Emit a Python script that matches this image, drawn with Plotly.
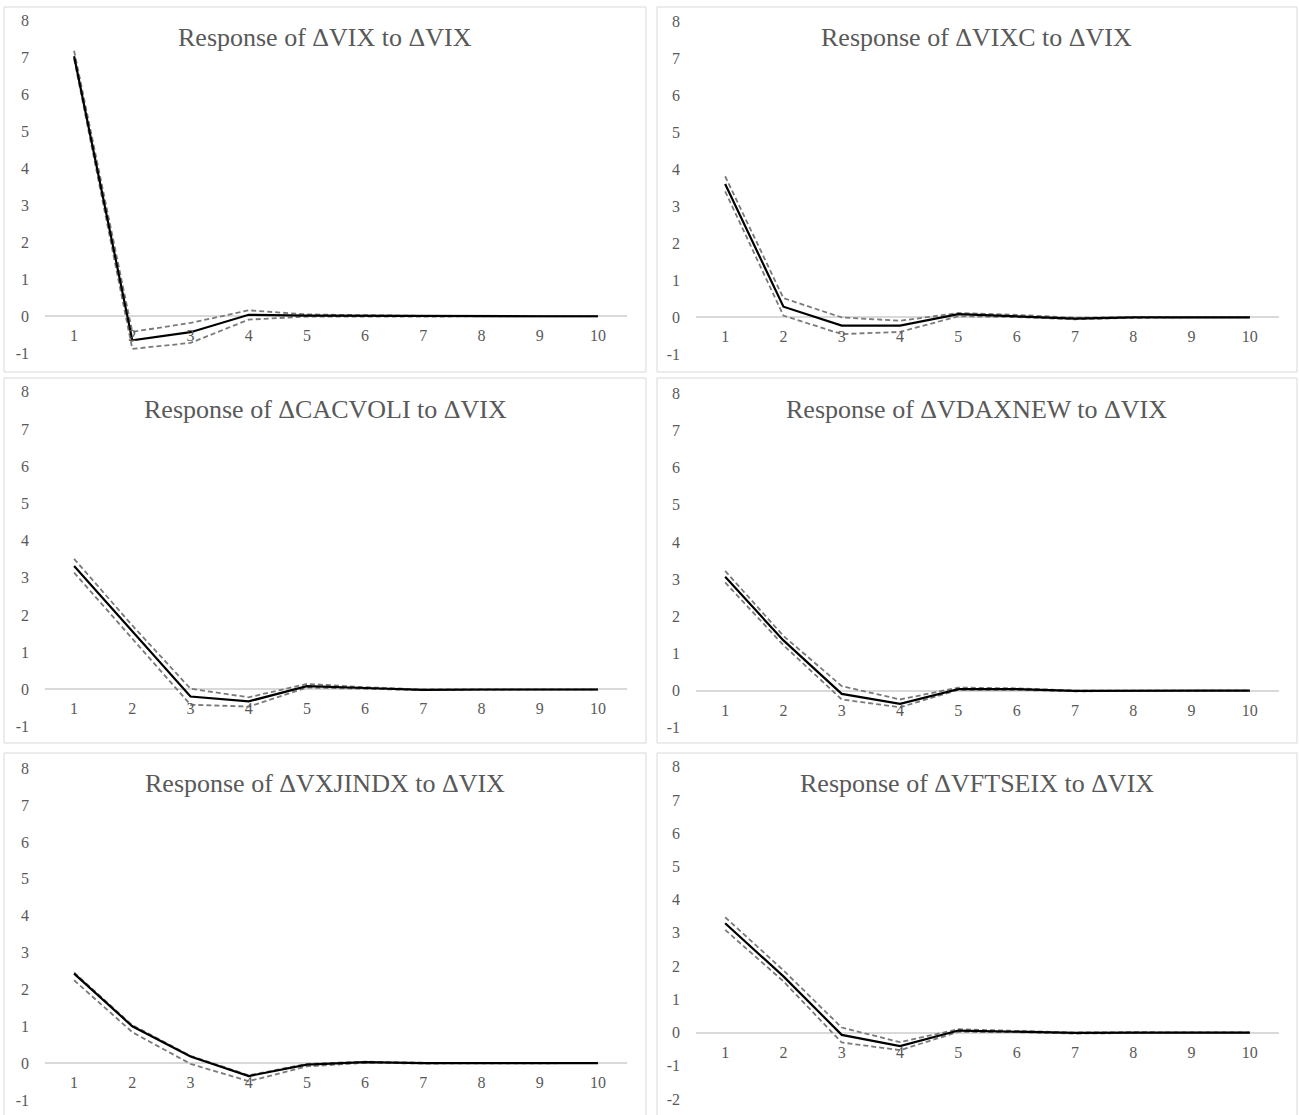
import plotly.graph_objects as go

W, H = 1300, 1115

periods = ["1", "2", "3", "4", "5", "6", "7", "8", "9", "10"]

titles = [
    "Response of ΔVIX to ΔVIX",
    "Response of ΔVIXC to ΔVIX",
    "Response of ΔCACVOLI to ΔVIX",
    "Response of ΔVDAXNEW to ΔVIX",
    "Response of ΔVXJINDX to ΔVIX",
    "Response of ΔVFTSEIX to ΔVIX",
]

vix_est = [7.02, -0.65, -0.43, 0.04, 0.02, 0.01, 0.0, 0.0, 0.0, 0.0]
vix_up = [7.17, -0.42, -0.18, 0.16, 0.05, 0.02, 0.01, 0.0, 0.0, 0.0]
vix_lo = [6.95, -0.88, -0.72, -0.09, -0.01, -0.02, -0.01, 0.0, 0.0, 0.0]

vixc_est = [3.60, 0.29, -0.22, -0.22, 0.09, 0.04, -0.03, 0.0, 0.0, 0.0]
vixc_up = [3.81, 0.52, 0.00, -0.09, 0.12, 0.07, -0.01, 0.01, 0.0, 0.0]
vixc_lo = [3.40, 0.05, -0.45, -0.39, 0.03, 0.01, -0.05, -0.01, 0.0, 0.0]

cac_est = [3.32, 1.55, -0.19, -0.32, 0.09, 0.04, -0.01, 0.0, 0.0, 0.0]
cac_up = [3.51, 1.72, 0.02, -0.21, 0.15, 0.06, 0.0, 0.01, 0.0, 0.0]
cac_lo = [3.14, 1.38, -0.41, -0.46, 0.05, 0.02, -0.02, -0.01, 0.0, 0.0]

vdax_est = [3.06, 1.35, -0.09, -0.36, 0.04, 0.04, -0.01, 0.0, 0.0, 0.0]
vdax_up = [3.22, 1.47, 0.12, -0.24, 0.08, 0.06, 0.0, 0.01, 0.0, 0.0]
vdax_lo = [2.91, 1.22, -0.24, -0.45, 0.02, 0.02, -0.02, -0.01, 0.0, 0.0]

vxj_est = [2.43, 1.00, 0.18, -0.35, -0.04, 0.03, 0.0, 0.0, 0.0, 0.0]
vxj_up = [2.46, 1.03, 0.20, -0.33, -0.02, 0.04, 0.01, 0.0, 0.0, 0.0]
vxj_lo = [2.25, 0.84, -0.02, -0.49, -0.09, 0.01, -0.01, 0.0, 0.0, 0.0]

vftse_est = [3.29, 1.69, -0.07, -0.41, 0.06, 0.03, -0.01, 0.0, 0.0, 0.0]
vftse_up = [3.47, 1.87, 0.15, -0.29, 0.10, 0.06, 0.0, 0.01, 0.0, 0.0]
vftse_lo = [3.09, 1.54, -0.30, -0.53, 0.02, 0.01, -0.03, -0.01, 0.0, 0.0]

y_tick_vals = [-2, -1, 0, 1, 2, 3, 4, 5, 6, 7, 8]
y_tick_text = ["-2", "-1", "0", "1", "2", "3", "4", "5", "6", "7", "8"]

y_ranges = [(-1, 8), (-1, 8), (-1, 8), (-1, 8), (-1, 8), (-2, 8)]

series = [
    (vix_est, vix_up, vix_lo),
    (vixc_est, vixc_up, vixc_lo),
    (cac_est, cac_up, cac_lo),
    (vdax_est, vdax_up, vdax_lo),
    (vxj_est, vxj_up, vxj_lo),
    (vftse_est, vftse_up, vftse_lo),
]

# layout geometry (pixels)
x_plot = [(45, 627), (696, 1279)]
y_plot = [(20, 353.3), (21, 354.5), (391.7, 726.7), (393.3, 727.7), (768.3, 1100), (766.7, 1099)]
panel_x = [(4, 646), (657, 1297)]
panel_y = [(7, 372), (378, 743), (753, 1119)]
title_y = [37, 409, 783]

FONT = "Liberation Serif"
TXT = "#595959"

fig = go.Figure()
layout = {}
shapes = []
annotations = []

for i in range(6):
    col = i % 2
    row = i // 2
    n = "" if i == 0 else str(i + 1)
    xa, ya = "x" + n, "y" + n
    est, up, lo = series[i]
    for vals, color, width, dash in [
        (up, "#7a7a7a", 1.8, "5px,3px"),
        (lo, "#7a7a7a", 1.8, "5px,3px"),
        (est, "#000000", 2.2, "solid"),
    ]:
        fig.add_trace(go.Scatter(
            x=periods, y=vals, mode="lines", xaxis=xa, yaxis=ya,
            line=dict(color=color, width=width, dash=dash),
            showlegend=False, hoverinfo="skip",
        ))
    x0, x1 = x_plot[col]
    yt, yb = y_plot[i]
    ydom = [1 - yb / H, 1 - yt / H]
    rmin, rmax = y_ranges[i]
    zero_pos = ydom[0] + (0 - rmin) / (rmax - rmin) * (ydom[1] - ydom[0])
    tv = [v for v in y_tick_vals if rmin <= v <= rmax]
    tt = [t for v, t in zip(y_tick_vals, y_tick_text) if rmin <= v <= rmax]
    layout["xaxis" + n] = dict(
        domain=[x0 / W, x1 / W], type="category", anchor="free", position=zero_pos,
        showgrid=False, zeroline=False, showline=False, automargin=False,
        tickfont=dict(family=FONT, size=16, color=TXT), ticklabelstandoff=8,
        range=[-0.5, 9.5], fixedrange=True,
    )
    layout["yaxis" + n] = dict(
        domain=ydom, range=[rmin, rmax], tickmode="array", tickvals=tv, ticktext=tt,
        showgrid=False, zeroline=True, zerolinecolor="#d9d9d9", zerolinewidth=1.5,
        anchor=xa, showline=False, automargin=False, fixedrange=True,
        tickfont=dict(family=FONT, size=16, color=TXT), ticklabelstandoff=15,
    )
    px0, px1 = panel_x[col]
    py0, py1 = panel_y[row]
    shapes.append(dict(
        type="rect", xref="paper", yref="paper",
        x0=px0 / W, x1=px1 / W, y0=1 - py1 / H, y1=1 - py0 / H,
        line=dict(color="#d9d9d9", width=1), layer="below",
    ))
    annotations.append(dict(
        text=titles[i], xref="paper", yref="paper",
        x=(px0 + px1) / 2 / W, y=1 - title_y[row] / H,
        xanchor="center", yanchor="middle", showarrow=False,
        font=dict(family=FONT, size=26, color=TXT),
    ))

fig.update_layout(
    width=W, height=H, margin=dict(l=0, r=0, t=0, b=0, autoexpand=False),
    paper_bgcolor="white", plot_bgcolor="white",
    shapes=shapes, annotations=annotations, showlegend=False,
    **layout,
)

fig.write_html(
    "out.html",
    config={"displayModeBar": False},
    post_script="document.body.style.margin='0';document.body.style.padding='0';",
)
